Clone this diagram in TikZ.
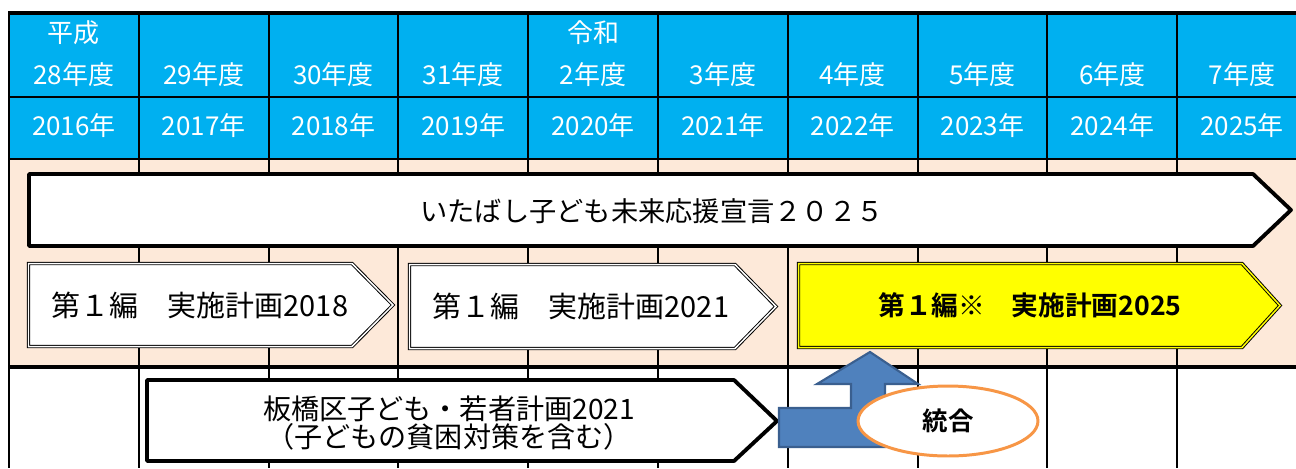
\documentclass[tikz,border=0pt]{standalone}
\usepackage{fontspec}
\setmainfont{Noto Sans CJK JP}[BoldFont={* Bold}]
\usetikzlibrary{positioning, shapes.geometric}
\definecolor{hdrblue}{HTML}{00B0F0}
\definecolor{peach}{HTML}{FDE9D9}
\definecolor{planyellow}{HTML}{FFFF00}
\definecolor{mergeblue}{HTML}{4F81BD}
\definecolor{mergeedge}{HTML}{3A5F8F}
\definecolor{ringorange}{HTML}{F79646}

\begin{document}
\begin{tikzpicture}[x=0.02cm, y=-0.02cm,
    hdr/.style={text=white, font=\fontsize{14.8}{17}\selectfont},
    lbl/.style={font=\fontsize{15.5}{17}\selectfont},
    planbox/.style={draw=black, line width=0.55pt, double=#1, double distance=0.85pt, fill=#1, line join=miter}]
        \useasboundingbox (0,0) rectangle (1296,468);
        % Bands of the table
        \fill[hdrblue] (9,13) rectangle (1300,159);
        \fill[peach] (9,159) rectangle (1300,367);
        % Column lines
        \foreach \k in {0,...,10} {
          \draw[line width=1.2pt] (9+\k*129.8, 13) -- (9+\k*129.8, 468);
        }
        % Row lines
        \draw[line width=1.8pt] (8,13) -- (1300,13);
        \draw[line width=1.2pt] (9,97) -- (1300,97);
        \draw[line width=1.2pt] (9,159) -- (1300,159);
        \draw[line width=1.8pt] (9,367) -- (1300,367);
        % Fiscal years and calendar years
        \foreach \k/\fy/\yr in {
          0/28/2016,
          1/29/2017,
          2/30/2018,
          3/31/2019,
          4/2/2020,
          5/3/2021,
          6/4/2022,
          7/5/2023,
          8/6/2024,
          9/7/2025%
        } {
          \node[hdr] (fy\k) at (73.9+\k*129.8, 75) {\fy 年度};
          \node[hdr] (yr\k) at (73.9+\k*129.8, 126) {\yr 年};
        }
        \node[hdr] (heisei) at (73.9, 33) {平成};
        \node[hdr] (reiwa) at (593.1, 33) {令和};
        % Declaration arrow
        \draw[fill=white, line width=2.2pt, line join=round]
          (29,174) -- (1253,174) -- (1291,210) -- (1253,246) -- (29,246) -- cycle;
        \node[lbl] (decl) at (652,211) {いたばし子ども未来応援宣言２０２５};
        % Implementation plans
        \draw[planbox=white] (28.5,263.5) -- (352,263.5) -- (393,305) -- (352,346.5) -- (28.5,346.5) -- cycle;
        \node[lbl, font=\fontsize{16.5}{18}\selectfont] (plan2018) at (200,305) {第１編　実施計画2018};
        \draw[planbox=white] (409.5,264.5) -- (735,264.5) -- (776,306.5) -- (735,348.5) -- (409.5,348.5) -- cycle;
        \node[lbl, font=\fontsize{16.5}{18}\selectfont] (plan2021) at (581,306) {第１編　実施計画2021};
        \draw[planbox=planyellow] (798.5,263.5) -- (1242,263.5) -- (1280,305.5) -- (1242,347.5) -- (798.5,347.5) -- cycle;
        \node[lbl, font=\fontsize{15.2}{17}\selectfont\bfseries] (plan2025) at (1030,305) {第１編※　実施計画2025};
        % Youth plan arrow
        \draw[fill=white, line width=2.2pt, line join=round]
          (147,380) -- (734,380) -- (777,421) -- (734,461) -- (147,461) -- cycle;
        \node[lbl, align=center, font=\fontsize{16}{15.5}\selectfont] (youth) at (449,423)
          {板橋区子ども・若者計画2021\\（子どもの貧困対策を含む）};
        % Merge arrow
        \draw[fill=mergeblue, draw=mergeedge, line width=1.2pt, line join=miter]
          (779,447) -- (779,408) -- (851,408) -- (851,384) -- (817,384) -- (870,352)
          -- (918,384) -- (885,384) -- (885,447) -- cycle;
        \node[ellipse, draw=ringorange, line width=1.7pt, fill=white, minimum width=3.6cm, minimum height=1.4cm,
          font=\fontsize{14.5}{17}\selectfont\bfseries] (merge) at (948,421) {統合};
\end{tikzpicture}
\end{document}
